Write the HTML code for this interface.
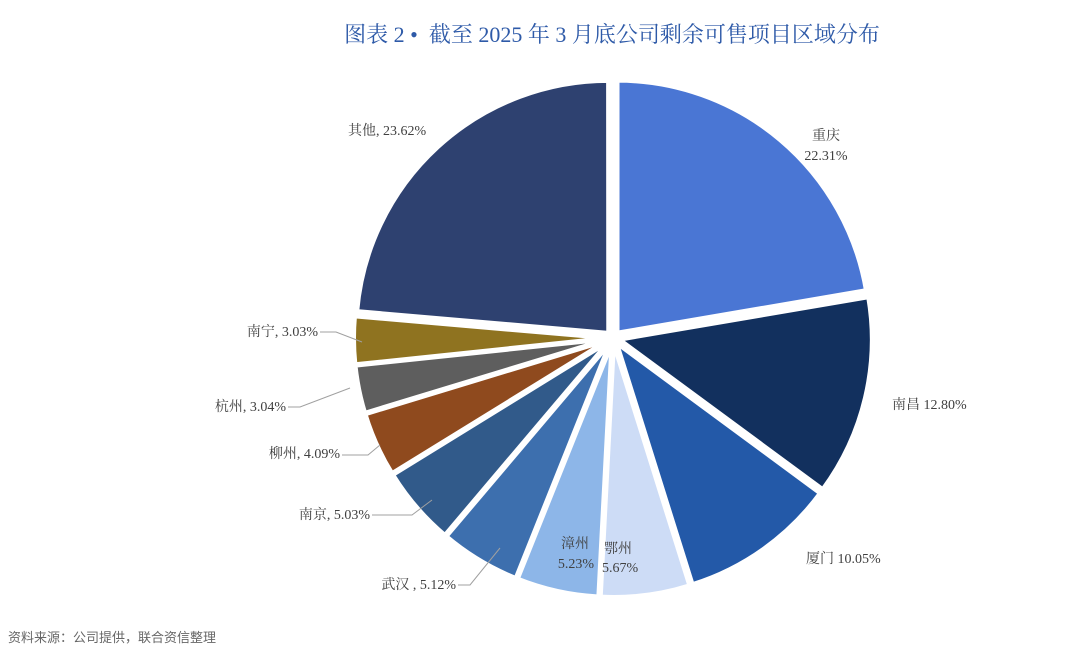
<!DOCTYPE html>
<html><head><meta charset="utf-8">
<style>
html,body{margin:0;padding:0;background:#fff;}
body{width:1080px;height:667px;position:relative;overflow:hidden;font-family:"Liberation Serif","Noto Serif CJK SC",serif;}
.t{position:absolute;left:0;width:1224px;text-align:center;top:18px;font-size:22px;color:#2e5aa8;font-family:"Liberation Serif","Noto Serif CJK SC",serif;}
.f{position:absolute;left:8px;top:627px;font-size:13px;color:#666;font-family:"Liberation Sans","Noto Sans CJK SC",sans-serif;}
svg text{font-family:"Liberation Serif","Noto Serif CJK SC",serif;font-size:14px;fill:#404040;}
</style></head><body>
<div class="t">图表 2 •&nbsp; 截至 2025 年 3 月底公司剩余可售项目区域分布</div>
<svg id="s" width="1080" height="667" style="position:absolute;left:0;top:0">
<g id="p"></g>
<g stroke="#a0a0a0" stroke-width="1" fill="none">
<polyline points="458,585 470,585 500,548"/>
<polyline points="372,515 412,515 432,500"/>
<polyline points="342,455 368,455 380,445"/>
<polyline points="288,407 300,407 350,388"/>
<polyline points="320,332 336,332 362,342"/>
</g>
<text x="826" y="140" text-anchor="middle">重庆</text>
<text x="826" y="160" text-anchor="middle">22.31%</text>
<text x="892" y="409">南昌 12.80%</text>
<text x="806" y="563">厦门 10.05%</text>
<text x="604" y="553" text-anchor="start">鄂州</text>
<text x="602" y="572">5.67%</text>
<text x="575" y="548" text-anchor="middle">漳州</text>
<text x="576" y="568" text-anchor="middle">5.23%</text>
<text x="456" y="589" text-anchor="end">武汉 , 5.12%</text>
<text x="370" y="519" text-anchor="end">南京, 5.03%</text>
<text x="340" y="458" text-anchor="end">柳州, 4.09%</text>
<text x="286" y="411" text-anchor="end">杭州, 3.04%</text>
<text x="318" y="336" text-anchor="end">南宁, 3.03%</text>
<text x="348" y="135">其他, 23.62%</text>
</svg>
<div class="f">资料来源：公司提供，联合资信整理</div>
<script>
var d=[[22.31,"#4a76d4"],[12.80,"#12305e"],[10.05,"#2359a8"],[5.67,"#cddcf6"],[5.23,"#8db6e8"],[5.12,"#3d6fae"],[5.03,"#315a8a"],[4.09,"#8f4a1e"],[3.04,"#5e5e5e"],[3.03,"#8f7320"],[23.62,"#2e4170"]];
var cx=613,cy=338,r=252,ex=7,a=0,h="";
d.forEach(function(v){var a0=a*Math.PI/50,a1=(a+v[0])*Math.PI/50,m=(a0+a1)/2;
var ox=cx+ex*Math.sin(m),oy=cy-ex*Math.cos(m);
var x0=ox+r*Math.sin(a0),y0=oy-r*Math.cos(a0),x1=ox+r*Math.sin(a1),y1=oy-r*Math.cos(a1);
h+='<path d="M'+ox+','+oy+'L'+x0+','+y0+'A'+r+','+r+' 0 '+(v[0]>50?1:0)+' 1 '+x1+','+y1+'Z" fill="'+v[1]+'" stroke="#fff" stroke-width="4" stroke-linejoin="round"/>';a+=v[0];});
document.getElementById("p").innerHTML=h;
</script>
</body></html>
